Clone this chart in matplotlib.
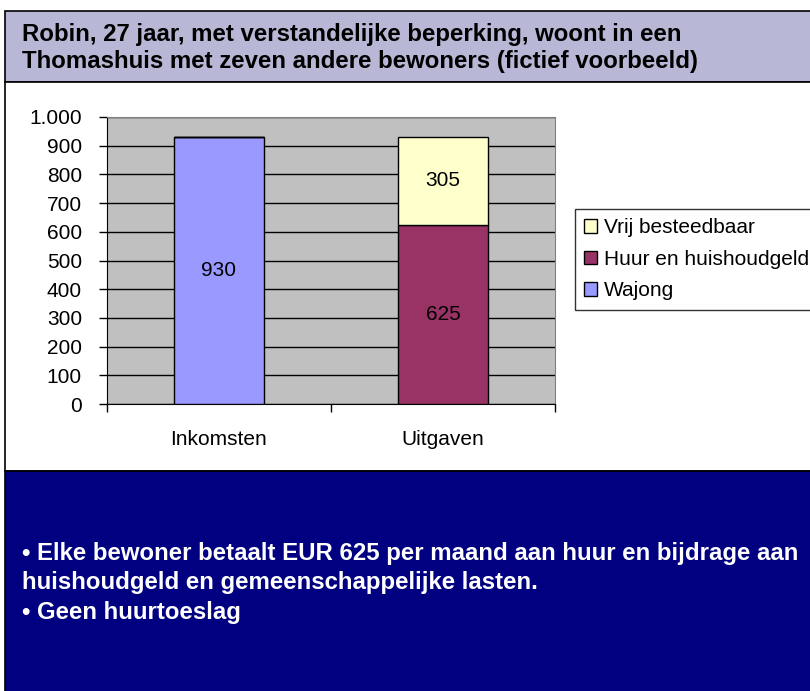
import matplotlib
matplotlib.use("Agg")
import matplotlib.pyplot as plt
from matplotlib.patches import Rectangle
from matplotlib.ticker import FuncFormatter, FixedLocator
from matplotlib import font_manager

categories = ["Inkomsten", "Uitgaven"]
wajong = [930, 0]
huur = [0, 625]
vrij = [0, 305]
series_names = ["Wajong", "Huur en huishoudgeld", "Vrij besteedbaar"]

title_lines = "Robin, 27 jaar, met verstandelijke beperking, woont in een\nThomashuis met zeven andere bewoners (fictief voorbeeld)"
notes = ("\u2022 Elke bewoner betaalt EUR 625 per maand aan huur en bijdrage aan\n"
         "huishoudgeld en gemeenschappelijke lasten.\n"
         "\u2022 Geen huurtoeslag")

names = {f.name for f in font_manager.fontManager.ttflist}
narrow = "Liberation Sans Narrow" if "Liberation Sans Narrow" in names else "Liberation Sans"
plt.rcParams["font.family"] = ["Liberation Sans", "DejaVu Sans"]

W, H = 810, 691
fig = plt.figure(figsize=(8.1, 6.91), dpi=100)


def fx(px):
    return px / W


def fy(py):
    return 1 - py / H


# panels: header, chart area, note box
for top, bot, col in [(11, 82, "#b8b8d6"), (82, 471, "white"), (471, 700, "#000080")]:
    fig.patches.append(Rectangle((fx(5), fy(bot)), fx(820), fy(top) - fy(bot),
                                 transform=fig.transFigure, facecolor=col,
                                 edgecolor="black", lw=1.2, zorder=-5))

fig.text(fx(22), fy(48), title_lines, family=[narrow, "DejaVu Sans"], weight="bold",
         fontsize=17.3, va="center", ha="left", linespacing=1.25)
fig.text(fx(22), fy(583), notes, family=[narrow, "DejaVu Sans"], weight="bold",
         fontsize=17.3, color="white", va="center", ha="left", linespacing=1.38)

ax = fig.add_axes([fx(107), fy(404), fx(555) - fx(107), fy(117) - fy(404)])
ax.set_facecolor("#c0c0c0")
x = list(range(len(categories)))
bw = 0.405
b1 = ax.bar(x, wajong, bw, color="#9999ff", edgecolor="black", lw=1, label=series_names[0], zorder=3)
b2 = ax.bar(x, huur, bw, bottom=wajong, color="#993366", edgecolor="black", lw=1,
            label=series_names[1], zorder=3)
bottoms = [a + b for a, b in zip(wajong, huur)]
b3 = ax.bar(x, vrij, bw, bottom=bottoms, color="#ffffcc", edgecolor="black", lw=1,
            label=series_names[2], zorder=3)

for vals, base in [(wajong, [0, 0]), (huur, wajong), (vrij, bottoms)]:
    for xi, v, b in zip(x, vals, base):
        if v:
            ax.text(xi, b + v / 2, str(v), ha="center", va="center", fontsize=15, zorder=4)

ax.set_xlim(-0.5, len(categories) - 0.5)
ax.set_ylim(0, 1000)
ax.set_yticks(range(0, 1001, 100))
ax.yaxis.set_major_formatter(FuncFormatter(lambda v, p: f"{int(v):,}".replace(",", ".")))
ax.yaxis.grid(True, color="black", lw=1, zorder=1)
ax.set_axisbelow(True)
ax.set_xticks(x)
ax.set_xticklabels(categories)
ax.xaxis.set_minor_locator(FixedLocator([-0.5, 0.5, 1.5]))
ax.tick_params(axis="x", which="major", length=0, pad=19, labelsize=15)
ax.tick_params(axis="x", which="minor", length=6, width=1)
ax.tick_params(axis="y", length=6, width=1, pad=12, labelsize=15)
for s in ["top", "right"]:
    ax.spines[s].set_color("#808080")
for s in ["left", "bottom"]:
    ax.spines[s].set_color("black")

handles = [b3, b2, b1]
leg = fig.legend(handles, [h.get_label() for h in handles], loc="upper left",
                 bbox_to_anchor=(fx(575), fy(209)), frameon=True, fancybox=False,
                 edgecolor="black", fontsize=15, handlelength=0.62, handleheight=0.62,
                 handletextpad=0.3, labelspacing=0.6, borderpad=0.45, borderaxespad=0)
leg.get_frame().set_linewidth(1)

fig.savefig("out.png", dpi=100)
